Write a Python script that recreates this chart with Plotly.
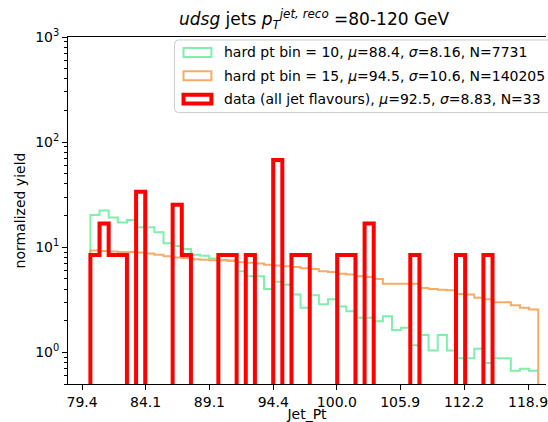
import numpy as np
import plotly.graph_objects as go

# ---------------- data ----------------
pt_min, pt_max, n_bins = 80.0, 120.0, 49
edges = np.logspace(np.log10(pt_min), np.log10(pt_max), n_bins + 1)

data_counts = [1, 2, 1, 1, 0, 4, 0, 0, 0, 3,
               1, 0, 0, 0, 1, 1, 0, 1, 0, 0,
               8, 0, 1, 1, 0, 0, 0, 1, 1, 0,
               2, 0, 0, 0, 0, 1, 0, 0, 0, 0,
               1, 0, 0, 1, 0, 0, 0, 0, 0]

bin10_yield = [20.3, 22.4, 19.2, 17.2, 18.2, 15.5, 15.5, 13.9, 10.9, 10.3,
               9.6, 8.5, 8.3, 7.8, 7.6, 7.5, 5.9, 5.3, 5.3, 4.0,
               4.7, 4.4, 3.56, 2.65, 3.5, 2.87, 3.2, 2.73, 2.46, 2.13,
               2.13, 1.98, 2.2, 1.63, 1.71, 1.17, 1.46, 1.04, 1.46, 1.04,
               0.88, 0.88, 1.08, 0.79, 0.88, 0.88, 0.67, 0.7, 0.67]

bin15_yield = [9.3, 9.2, 9.1, 9.0, 9.0, 8.9, 8.7, 8.5, 8.2, 8.0,
               7.9, 7.7, 7.6, 7.5, 7.5, 7.4, 7.2, 7.1, 7.0, 6.8,
               6.7, 6.6, 6.5, 6.3, 6.2, 5.9, 5.8, 5.6, 5.5, 5.3,
               5.2, 5.0, 4.5, 4.5, 4.5, 4.5, 4.1, 4.0, 3.95, 3.9,
               3.6, 3.55, 3.3, 3.2, 3.0, 3.0, 2.8, 2.65, 2.55]

x_tick_labels = ["79.4", "84.1", "89.1", "94.4", "100.0", "105.9", "112.2", "118.9"]
y_tick_vals = [1, 10, 100, 1000]
y_tick_labels = ["10<sup>0</sup>", "10<sup>1</sup>", "10<sup>2</sup>", "10<sup>3</sup>"]

legend_labels = [
    "hard pt bin = 10, <i>μ</i>=88.4, <i>σ</i>=8.16, N=7731",
    "hard pt bin = 15, <i>μ</i>=94.5, <i>σ</i>=10.6, N=140205",
    "data (all jet flavours), <i>μ</i>=92.5, <i>σ</i>=8.83, N=33",
]
title_text = "<i>udsg</i> jets <i>p</i><sub><i>T</i></sub><sup><i>jet, reco</i></sup> =80-120 GeV"

# ---------------- styling ----------------
GREEN = "rgb(125,240,172)"
ORANGE = "rgb(246,172,100)"
RED = "rgb(255,0,0)"
FONT = "DejaVu Sans"
W, H = 548, 422
ML, MR, MT, MB = 68, 0, 37, 36
PW, PH = W - ML - MR, H - MT - MB
ZERO = 1e-4

counts = np.array(data_counts, dtype=float)
data_density = counts / (counts.sum() * np.diff(np.log10(edges)))


def step_xy(vals):
    v = [x if x > 0 else ZERO for x in vals]
    xs = [edges[0]] + list(edges[:-1]) + [edges[-1]]
    ys = [ZERO] + v + [ZERO]
    return xs, ys


fig = go.Figure()
for vals, col, lw in [(bin10_yield, GREEN, 2), (bin15_yield, ORANGE, 2),
                      (list(data_density), RED, 4)]:
    xs, ys = step_xy(vals)
    fig.add_trace(go.Scatter(x=xs, y=ys, mode="lines", line_shape="hv",
                             line=dict(color=col, width=lw), showlegend=False,
                             hoverinfo="skip"))

# x range: matplotlib-like 5% margins in log space, right part cut by the figure edge
lo, hi = np.log10(pt_min), np.log10(pt_max)
span = hi - lo
full_left = lo - 0.05 * span
full_width_px = 494.7
x_right = full_left + (PW / full_width_px) * 1.1 * span

minor_vals = [m * 10 ** e for e in range(-1, 3) for m in range(2, 10)]
minor_vals = [v for v in minor_vals if v >= 0.5]

axis_font = dict(family=FONT, size=14, color="black")
fig.update_layout(
    width=W, height=H, margin=dict(l=ML, r=MR, t=MT, b=MB),
    paper_bgcolor="white", plot_bgcolor="white",
    font=dict(family=FONT, size=14, color="black"),
    xaxis=dict(type="log", range=[full_left, x_right],
               tickvals=[float(t) for t in x_tick_labels], ticktext=x_tick_labels,
               ticks="outside", ticklen=5, tickwidth=1, tickcolor="black",
               ticklabeloverflow="allow",
               showline=True, linecolor="black", linewidth=1, mirror=True,
               showgrid=False, zeroline=False, tickfont=axis_font,
               title=dict(text="Jet_Pt", font=axis_font, standoff=2)),
    yaxis=dict(type="log", range=[np.log10(0.5), 3],
               tickvals=y_tick_vals, ticktext=y_tick_labels,
               ticks="outside", ticklen=5, tickwidth=1, tickcolor="black",
               minor=dict(tickvals=minor_vals, ticks="outside", ticklen=3,
                          tickwidth=1, tickcolor="black", showgrid=False),
               showline=True, linecolor="black", linewidth=1,
               showgrid=False, zeroline=False, tickfont=axis_font,
               title=dict(text="normalized yield", font=axis_font, standoff=6)),
)


def px_x(px):
    return (px - ML) / PW


def px_y(py):
    return (H - MB - py) / PH


# title
fig.add_annotation(text=title_text, xref="paper", yref="paper",
                   x=px_x(ML + full_width_px / 2), y=px_y(19),
                   xanchor="center", yanchor="middle", showarrow=False,
                   font=dict(family=FONT, size=17, color="black"))

# legend (drawn manually to mimic matplotlib patches)
bx0, bx1, by0, by1, r = 175, 565, 40, 113, 4
path = (f"M{px_x(bx0 + r)},{px_y(by0)} L{px_x(bx1 - r)},{px_y(by0)} "
        f"Q{px_x(bx1)},{px_y(by0)} {px_x(bx1)},{px_y(by0 + r)} "
        f"L{px_x(bx1)},{px_y(by1 - r)} Q{px_x(bx1)},{px_y(by1)} {px_x(bx1 - r)},{px_y(by1)} "
        f"L{px_x(bx0 + r)},{px_y(by1)} Q{px_x(bx0)},{px_y(by1)} {px_x(bx0)},{px_y(by1 - r)} "
        f"L{px_x(bx0)},{px_y(by0 + r)} Q{px_x(bx0)},{px_y(by0)} {px_x(bx0 + r)},{px_y(by0)} Z")
fig.add_shape(type="path", path=path, xref="paper", yref="paper",
              fillcolor="rgba(255,255,255,0.8)", line=dict(color="rgb(204,204,204)", width=1),
              layer="above")
row_y = [52.5, 76, 99.5]
for label, col, lw, yc in zip(legend_labels, [GREEN, ORANGE, RED], [2, 2, 4], row_y):
    fig.add_shape(type="rect", xref="paper", yref="paper",
                  x0=px_x(184), x1=px_x(212), y0=px_y(yc - 4.5), y1=px_y(yc + 4.5),
                  line=dict(color=col, width=lw), fillcolor="rgba(0,0,0,0)", layer="above")
    fig.add_annotation(text=label, xref="paper", yref="paper", x=px_x(223), y=px_y(yc),
                       xanchor="left", yanchor="middle", showarrow=False,
                       font=dict(family=FONT, size=14, color="black"))

fig.write_html("out.html")
